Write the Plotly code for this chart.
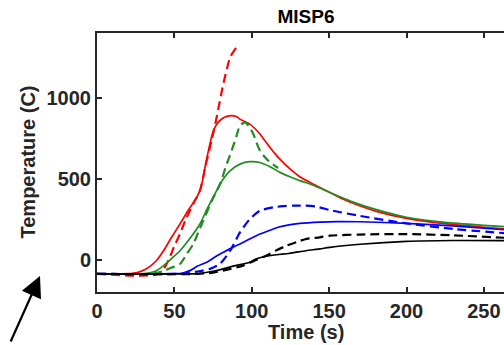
import plotly.graph_objects as go

# ---- data ----
red_solid_x = [0, 20, 26, 32, 38, 43, 48, 53.6, 59, 64.4, 66.5, 68.5, 70, 72, 75, 78, 81, 84, 87, 90, 92.4, 95, 98.8, 102, 105.3, 108.5, 111.8, 115, 118.2, 124.7, 131, 137.6, 144, 150.5, 157, 165, 180, 200, 225, 250, 265]
red_solid_y = [-88, -87, -80, -57, -10, 55, 135, 220, 305, 385, 426, 500, 580, 673, 790, 845, 872, 885, 889, 884, 868, 855, 837, 810, 776, 735, 693, 655, 621, 560, 512, 477, 446, 415, 383, 350, 300, 255, 222, 200, 188]

red_dash_x = [0, 40, 45, 47, 50, 53.6, 57, 60, 63, 66.5, 70, 74, 77.3, 81.6, 86, 88.5, 90.2, 91.5, 92.3]
red_dash_y = [-88, -88, -27, 14, 85, 159, 240, 302, 360, 426, 575, 735, 878, 1084, 1249, 1290, 1307, 1305, 1295]

green_solid_x = [0, 28, 32, 38, 43, 48, 53.6, 60, 66.5, 71, 77.3, 81, 86, 92.4, 98.8, 105.3, 111.8, 118.2, 124.7, 131, 137.6, 144, 150.5, 157, 165, 180, 200, 225, 250, 265]
green_solid_y = [-88, -88, -85, -70, -37, 5, 55, 130, 220, 310, 426, 490, 549, 590, 605, 600, 574, 539, 512, 488, 467, 442, 415, 388, 357, 310, 262, 230, 212, 203]

green_dash_x = [0, 36, 43, 48, 53.6, 58, 62.2, 65.5, 68.7, 74, 79.5, 83.8, 87, 90, 92.4, 95.6, 98.5, 101, 105.3, 110.7, 117]
green_dash_y = [-88, -86, -70, -50, -27, 35, 97, 170, 241, 360, 467, 590, 673, 760, 827, 848, 820, 776, 673, 611, 566]

blue_solid_x = [0, 50, 55, 60, 65, 70.9, 76, 81.6, 86, 92.4, 97, 103, 110, 117, 124, 131, 144, 155, 170, 200, 230, 265]
blue_solid_y = [-88, -87, -84, -68, -40, -16, 15, 45, 68, 97, 120, 148, 175, 200, 215, 224, 232, 235, 234, 224, 208, 183]

blue_dash_x = [0, 55, 60, 66, 73, 79.5, 86, 92.4, 98.8, 105.3, 114, 120, 126.8, 135, 142, 150.5, 170, 200, 230, 265]
blue_dash_y = [-88, -87, -80, -72, -57, -25, 55, 168, 251, 302, 323, 330, 333, 333, 327, 306, 270, 224, 190, 162]

black_solid_x = [0, 60, 66.5, 75, 81.6, 88, 98.8, 103, 108, 116, 124, 135, 144, 150.5, 170, 200, 230, 265]
black_solid_y = [-88, -88, -85, -72, -57, -40, -16, 5, 18, 30, 38, 55, 66, 76, 95, 113, 118, 117]

black_dash_x = [0, 65, 75, 85, 94.5, 102, 109.6, 116, 122.5, 130, 135.5, 144, 150.5, 170, 200, 230, 265]
black_dash_y = [-88, -88, -80, -60, -37, -5, 25, 58, 86, 112, 128, 138, 148, 155, 158, 150, 134]

x_ticks = [0, 50, 100, 150, 200, 250]
y_ticks = [0, 500, 1000]
title_text = "MISP6"
x_title = "Time (s)"
y_title = "Temperature (C)"

RED = "#ff0000"
GREEN = "#228b22"
BLUE = "#0000ff"
BLACK = "#000000"
AXC = "#262626"
FONT = "Liberation Sans"

series = [
    (red_dash_x, red_dash_y, RED, True),
    (red_solid_x, red_solid_y, RED, False),
    (green_dash_x, green_dash_y, GREEN, True),
    (green_solid_x, green_solid_y, GREEN, False),
    (blue_dash_x, blue_dash_y, BLUE, True),
    (blue_solid_x, blue_solid_y, BLUE, False),
    (black_dash_x, black_dash_y, BLACK, True),
    (black_solid_x, black_solid_y, BLACK, False),
]

fig = go.Figure()
for xs, ys, col, dashed in series:
    fig.add_trace(go.Scatter(
        x=xs, y=ys, mode="lines",
        line=dict(color=col, width=2.2 if dashed else 1.7,
                  dash="9px,5px" if dashed else "solid",
                  shape="spline", smoothing=0.7),
        showlegend=False, hoverinfo="skip"))

L, T, B = 97, 33, 53
W, H = 504, 345
pw = W - L
ph = H - T - B
cx = (306 - L) / pw

fig.update_layout(
    width=W, height=H,
    margin=dict(l=L, r=0, t=T, b=B, pad=0),
    paper_bgcolor="white", plot_bgcolor="white",
    font=dict(family=FONT, size=20, color=AXC, weight="bold"),
    title=dict(text=title_text, x=306 / W, xref="container", xanchor="center",
               y=1 - 16 / H, yref="container", yanchor="middle",
               font=dict(family=FONT, size=19, color="#000000", weight="bold")),
)
fig.update_xaxes(
    range=[0, 263], tickvals=x_ticks, ticktext=[str(v) for v in x_ticks],
    showgrid=False, zeroline=False,
    showline=True, linecolor=AXC, linewidth=2, mirror="ticks",
    ticks="inside", ticklen=5, tickwidth=1.5, tickcolor=AXC,
    tickfont=dict(family=FONT, size=20, color=AXC, weight="bold"),
)
fig.update_yaxes(
    range=[-200, 1400], tickvals=y_ticks, ticktext=[str(v) for v in y_ticks],
    showgrid=False, zeroline=False,
    showline=True, linecolor=AXC, linewidth=2, mirror=False,
    ticks="inside", ticklen=5, tickwidth=1.5, tickcolor=AXC,
    tickfont=dict(family=FONT, size=20, color=AXC, weight="bold"),
)

fig.add_annotation(text=x_title, xref="paper", yref="paper", x=cx,
                   y=-(332 - (T + ph)) / ph,
                   xanchor="center", yanchor="middle", showarrow=False,
                   font=dict(family=FONT, size=20, color=AXC, weight="bold"))
fig.add_annotation(text=y_title, xref="paper", yref="paper", x=(27 - L) / pw, y=0.5,
                   xanchor="center", yanchor="middle", textangle=-90, showarrow=False,
                   font=dict(family=FONT, size=20, color=AXC, weight="bold"))
# arrow in lower-left
fig.add_annotation(text="", xref="paper", yref="paper",
                   x=(40 - L) / pw, y=(T + ph - 276) / ph,
                   ax=-30, ay=67, axref="pixel", ayref="pixel",
                   showarrow=True, arrowhead=2, arrowsize=1.9, arrowwidth=2.2,
                   arrowcolor="#000000", standoff=0)

fig.write_html("out.html")
